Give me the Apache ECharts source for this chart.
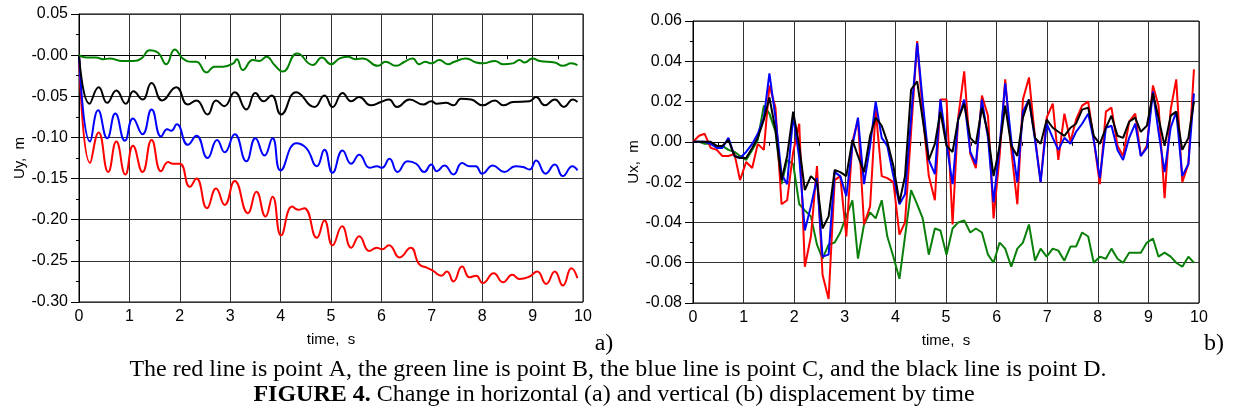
<!DOCTYPE html>
<html lang="en">
<head>
    <meta charset="UTF-8">
    <title>Figure 4</title>
    <script src="https://cdn.jsdelivr.net/npm/echarts@6/dist/echarts.min.js"></script>
    <style>
        body { margin: 0; background: #fff; }
    </style>
</head>
<body>
    <div id="main" style="width: 1240px;height:415px;"></div>
    <script type="text/javascript">
        // (a) vertical displacement Uy, smooth curves: [time, value] at the turning points
        var redA = [[0,0],[0.22,-0.131],[0.39,-0.094],[0.58,-0.142],[0.74,-0.105],[0.92,-0.145],[1.07,-0.110],[1.26,-0.142],[1.44,-0.103],[1.63,-0.141],
            [1.77,-0.130],[1.86,-0.132],[2.0,-0.132],[2.2,-0.160],[2.33,-0.150],[2.54,-0.186],[2.72,-0.162],[2.89,-0.182],[3.09,-0.153],[3.35,-0.192],
            [3.52,-0.166],[3.70,-0.196],[3.84,-0.172],[4.01,-0.219],[4.23,-0.184],[4.35,-0.188],[4.47,-0.186],[4.72,-0.222],[4.87,-0.201],[5.03,-0.231],
            [5.22,-0.208],[5.40,-0.234],[5.56,-0.220],[5.76,-0.238],[5.91,-0.234],[6.01,-0.236],[6.15,-0.231],[6.36,-0.246],[6.58,-0.234],[6.75,-0.254],
            [6.89,-0.258],[7.02,-0.262],[7.19,-0.268],[7.30,-0.263],[7.43,-0.275],[7.60,-0.257],[7.75,-0.270],[7.88,-0.268],[8.01,-0.277],[8.23,-0.265],
            [8.41,-0.276],[8.60,-0.267],[8.74,-0.272],[8.94,-0.269],[9.09,-0.263],[9.27,-0.278],[9.44,-0.263],[9.60,-0.280],[9.77,-0.259],[9.89,-0.271]];
        var blueA = [[0,0],[0.22,-0.105],[0.38,-0.067],[0.56,-0.101],[0.72,-0.071],[0.91,-0.104],[1.07,-0.077],[1.26,-0.096],[1.44,-0.066],[1.63,-0.099],
            [1.75,-0.090],[1.83,-0.092],[1.94,-0.084],[2.16,-0.109],[2.33,-0.098],[2.55,-0.125],[2.74,-0.103],[2.89,-0.118],[3.09,-0.096],[3.32,-0.129],
            [3.50,-0.101],[3.68,-0.122],[3.84,-0.101],[4.00,-0.140],[4.31,-0.107],[4.51,-0.113],[4.72,-0.135],[4.87,-0.115],[5.03,-0.143],[5.23,-0.116],
            [5.40,-0.132],[5.56,-0.121],[5.77,-0.137],[5.91,-0.135],[6.01,-0.137],[6.16,-0.126],[6.32,-0.142],[6.52,-0.129],[6.69,-0.132],[6.85,-0.142],
            [6.99,-0.133],[7.10,-0.141],[7.25,-0.134],[7.43,-0.145],[7.60,-0.131],[7.75,-0.135],[7.87,-0.135],[8.00,-0.144],[8.21,-0.134],[8.44,-0.142],
            [8.66,-0.135],[8.81,-0.136],[8.94,-0.139],[9.07,-0.128],[9.26,-0.144],[9.44,-0.133],[9.60,-0.147],[9.79,-0.135],[9.89,-0.140]];
        var blackA = [[0,0],[0.21,-0.059],[0.39,-0.039],[0.56,-0.058],[0.74,-0.043],[0.93,-0.059],[1.08,-0.044],[1.26,-0.054],[1.44,-0.034],[1.65,-0.055],
            [1.93,-0.039],[2.16,-0.060],[2.33,-0.055],[2.55,-0.072],[2.72,-0.055],[2.88,-0.062],[3.09,-0.045],[3.32,-0.066],[3.50,-0.046],[3.66,-0.056],
            [3.82,-0.049],[4.01,-0.072],[4.31,-0.045],[4.67,-0.063],[4.87,-0.049],[5.03,-0.063],[5.23,-0.046],[5.40,-0.056],[5.56,-0.051],[5.79,-0.061],
            [5.99,-0.057],[6.15,-0.054],[6.31,-0.063],[6.56,-0.054],[6.83,-0.060],[6.99,-0.056],[7.10,-0.059],[7.28,-0.058],[7.43,-0.061],[7.58,-0.053],
            [7.78,-0.054],[8.01,-0.061],[8.25,-0.055],[8.42,-0.061],[8.61,-0.057],[8.94,-0.056],[9.07,-0.051],[9.24,-0.061],[9.44,-0.054],[9.62,-0.063],
            [9.80,-0.054],[9.89,-0.057]];
        var greenA = [[0,0],[0.15,-0.003],[0.34,-0.003],[0.48,-0.005],[0.61,-0.004],[0.84,-0.007],[1.07,-0.007],[1.24,-0.004],[1.40,0.006],[1.57,0.003],
            [1.73,-0.011],[1.90,0.007],[2.06,-0.004],[2.23,-0.008],[2.33,-0.008],[2.53,-0.021],[2.69,-0.014],[2.86,-0.014],[3.06,-0.010],[3.13,-0.005],
            [3.25,-0.018],[3.45,-0.006],[3.58,-0.007],[3.72,-0.002],[3.88,-0.012],[4.04,-0.020],[4.33,0.002],[4.64,-0.012],[4.82,-0.003],[5.00,-0.011],
            [5.17,-0.004],[5.33,-0.002],[5.50,-0.005],[5.63,-0.004],[5.93,-0.013],[6.08,-0.008],[6.29,-0.013],[6.46,-0.008],[6.62,-0.004],[6.75,-0.011],
            [6.87,-0.008],[6.99,-0.010],[7.15,-0.006],[7.32,-0.011],[7.45,-0.008],[7.68,-0.004],[7.88,-0.009],[8.01,-0.010],[8.25,-0.007],[8.41,-0.011],
            [8.61,-0.010],[8.74,-0.006],[8.84,-0.009],[9.00,-0.004],[9.14,-0.007],[9.44,-0.009],[9.60,-0.013],[9.77,-0.010],[9.89,-0.012]];

        // (b) horizontal displacement Ux, one sample time list shared by the four points
        var timeB = [0,0.12,0.23,0.35,0.47,0.58,0.70,0.82,0.93,1.05,1.17,1.28,1.40,1.51,1.63,1.75,1.86,1.98,2.10,2.21,
            2.33,2.45,2.56,2.68,2.80,2.91,3.03,3.15,3.26,3.38,3.50,3.61,3.73,3.84,3.96,4.08,4.19,4.31,4.43,4.54,
            4.66,4.78,4.89,5.01,5.13,5.24,5.36,5.48,5.59,5.71,5.83,5.94,6.06,6.17,6.29,6.41,6.52,6.64,6.76,6.87,
            6.99,7.11,7.22,7.34,7.46,7.57,7.69,7.81,7.92,8.04,8.16,8.27,8.39,8.50,8.62,8.74,8.85,8.97,9.09,9.20,
            9.32,9.44,9.55,9.67,9.79,9.90];
        var redB = [0.000,0.003,0.004,-0.003,-0.004,-0.007,-0.007,-0.006,-0.019,-0.010,-0.013,-0.001,-0.004,0.028,0.017,-0.031,-0.029,-0.005,0.009,-0.062,
            -0.047,-0.012,-0.066,-0.078,-0.019,-0.017,-0.047,0.000,0.011,-0.041,-0.032,0.016,-0.017,-0.018,-0.020,-0.046,-0.040,0.005,0.050,0.014,
            -0.017,-0.029,0.021,0.021,-0.041,0.012,0.035,-0.006,-0.013,0.023,0.013,-0.038,-0.007,0.031,-0.004,-0.031,0.021,0.032,0.002,-0.020,
            0.012,0.019,-0.009,0.014,0.000,0.011,0.018,0.020,0.001,-0.021,0.015,0.017,-0.002,-0.007,0.010,0.014,-0.007,-0.002,0.028,0.018,
            -0.028,0.016,0.031,-0.020,-0.011,0.036];
        var greenB = [0,0,-0.001,-0.001,-0.002,-0.002,-0.004,-0.005,-0.007,-0.009,-0.004,0.001,0.018,0.014,0.005,-0.021,-0.009,-0.011,-0.031,-0.034,
            -0.037,-0.051,-0.058,-0.051,-0.050,-0.045,-0.037,-0.029,-0.058,-0.041,-0.035,-0.038,-0.029,-0.047,-0.057,-0.068,-0.047,-0.024,-0.031,-0.038,
            -0.056,-0.043,-0.044,-0.056,-0.043,-0.040,-0.039,-0.045,-0.043,-0.045,-0.056,-0.060,-0.050,-0.053,-0.062,-0.053,-0.050,-0.041,-0.059,-0.053,
            -0.057,-0.053,-0.054,-0.059,-0.052,-0.052,-0.045,-0.047,-0.060,-0.057,-0.058,-0.053,-0.058,-0.060,-0.055,-0.055,-0.055,-0.050,-0.048,-0.057,
            -0.055,-0.057,-0.060,-0.062,-0.057,-0.060];
        var blueB = [0,0,0,-0.001,-0.003,-0.003,0.002,-0.007,-0.008,-0.005,-0.001,0.004,0.012,0.034,0.012,-0.016,-0.021,0.013,-0.008,-0.044,
            -0.032,-0.018,-0.057,-0.056,-0.015,-0.017,-0.027,-0.002,0.012,-0.021,-0.002,0.020,0.002,-0.002,-0.017,-0.031,-0.026,0.012,0.049,0.020,
            -0.009,-0.016,0.021,-0.001,-0.021,0.011,0.021,-0.005,-0.011,0.021,0.002,-0.030,-0.002,0.029,0.001,-0.020,0.015,0.021,0.001,-0.020,
            0.009,0.002,-0.004,0.002,-0.001,0.005,0.009,0.014,0.001,-0.018,0.007,0.008,-0.004,-0.009,0.002,0.009,-0.007,-0.003,0.025,0.005,
            -0.015,0.007,0.015,-0.017,-0.011,0.024];
        var blackB = [0,0,0,0,-0.002,-0.002,0.001,-0.007,-0.008,-0.008,-0.003,0.002,0.011,0.022,0.006,-0.019,-0.007,0.015,-0.002,-0.024,
            -0.017,-0.020,-0.043,-0.037,-0.014,-0.015,-0.017,0.001,-0.007,-0.015,0.003,0.012,0.008,0.000,-0.012,-0.030,-0.017,0.026,0.030,0.011,
            -0.009,-0.001,0.015,-0.002,-0.005,0.011,0.019,0.002,-0.001,0.017,0.004,-0.017,-0.002,0.018,-0.002,-0.007,0.012,0.021,0.002,-0.001,
            0.011,0.007,0.005,0.003,0.007,0.009,0.016,0.017,0.003,-0.001,0.007,0.013,0.003,0.002,0.010,0.012,0.005,0.008,0.024,0.012,
            -0.002,0.013,0.015,-0.004,0.002,0.020];

        var caption1 = 'The red line is point A, the green line is point B, the blue line is point C, and the black line is point D.';
        var caption2 = 'Change in horizontal (a) and vertical (b) displacement by time';

        function pairs(ys) {
            return timeB.map(function (t, i) { return [t, ys[i]]; });
        }

        var axisFont = { color: '#000', fontSize: 16, fontFamily: 'Liberation Sans' };
        function xAx(idx) {
            return {
                type: 'value', gridIndex: idx, min: 0, max: 10, interval: 1,
                name: 'time,  s', nameLocation: 'middle', nameGap: 30,
                nameTextStyle: { color: '#000', fontSize: 15, fontFamily: 'Liberation Sans' },
                axisLine: { lineStyle: { color: '#000', width: 1 } },
                axisTick: { length: 5, lineStyle: { color: '#000' } },
                minorTick: { show: true, splitNumber: 2, length: 4, lineStyle: { color: '#000' } },
                axisLabel: Object.assign({ margin: 7 }, axisFont),
                splitLine: { show: true, lineStyle: { color: '#333', width: 1 } }
            };
        }
        function yAx(idx, min, max, step, name, fmt) {
            return {
                type: 'value', gridIndex: idx, min: min, max: max, interval: step,
                name: name, nameLocation: 'middle', nameGap: 50, nameRotate: 90,
                nameTextStyle: { color: '#000', fontSize: 15, fontFamily: 'Liberation Sans' },
                axisLine: { show: true, lineStyle: { color: '#000', width: 1 } },
                axisTick: { show: true, length: 8, lineStyle: { color: '#000' } },
                minorTick: { show: true, splitNumber: 2, length: 3, lineStyle: { color: '#000' } },
                axisLabel: Object.assign({ margin: 11, formatter: fmt }, axisFont),
                splitLine: { show: true, lineStyle: { color: '#333', width: 1 } }
            };
        }
        function line(name, color, data, idx, smooth) {
            return {
                name: name, type: 'line', xAxisIndex: idx, yAxisIndex: idx,
                data: data, showSymbol: false, smooth: smooth,
                lineStyle: { color: color, width: 2 }, animation: false
            };
        }

        var serif = '"Liberation Serif", "Times New Roman", serif';
        var myChart = echarts.init(document.getElementById('main'));
        var option = {
            backgroundColor: '#fff',
            animation: false,
            grid: [
                { left: 79, top: 14, width: 504, height: 288, show: true, borderColor: '#000', borderWidth: 1 },
                { left: 693, top: 21, width: 506, height: 282, show: true, borderColor: '#000', borderWidth: 1 }
            ],
            xAxis: [xAx(0), xAx(1)],
            yAxis: [
                yAx(0, -0.30, 0.05, 0.05, 'Uy,  m', function (v) { return Math.abs(v) < 1e-9 ? '-0.00' : v.toFixed(2); }),
                yAx(1, -0.08, 0.06, 0.02, 'Ux,  m', function (v) { return Math.abs(v) < 1e-9 ? '0.00' : v.toFixed(2); })
            ],
            series: [
                line('A', '#ff0000', redA, 0, 0.5),
                line('C', '#0000ff', blueA, 0, 0.5),
                line('D', '#000000', blackA, 0, 0.5),
                line('B', '#008000', greenA, 0, 0.5),
                line('B', '#0a800a', pairs(greenB), 1, false),
                line('A', '#ff0000', pairs(redB), 1, false),
                line('C', '#0000ff', pairs(blueB), 1, false),
                line('D', '#000000', pairs(blackB), 1, false)
            ],
            graphic: [
                { type: 'text', x: 604, y: 344, style: { text: 'a)', font: '24px ' + serif, fill: '#000', align: 'center', verticalAlign: 'middle' } },
                { type: 'text', x: 1214, y: 344, style: { text: 'b)', font: '24px ' + serif, fill: '#000', align: 'center', verticalAlign: 'middle' } },
                { type: 'text', x: 618, y: 370, style: { text: caption1, font: '24px ' + serif, fill: '#000', align: 'center', verticalAlign: 'middle' } },
                { type: 'text', x: 614, y: 395, style: {
                    text: '{b|FIGURE 4.} ' + caption2,
                    font: '24px ' + serif, fill: '#000', align: 'center', verticalAlign: 'middle',
                    rich: { b: { fontWeight: 'bold', fontSize: 24, fontFamily: 'Liberation Serif' } }
                } }
            ]
        };
        myChart.setOption(option);
    </script>
</body>
</html>
